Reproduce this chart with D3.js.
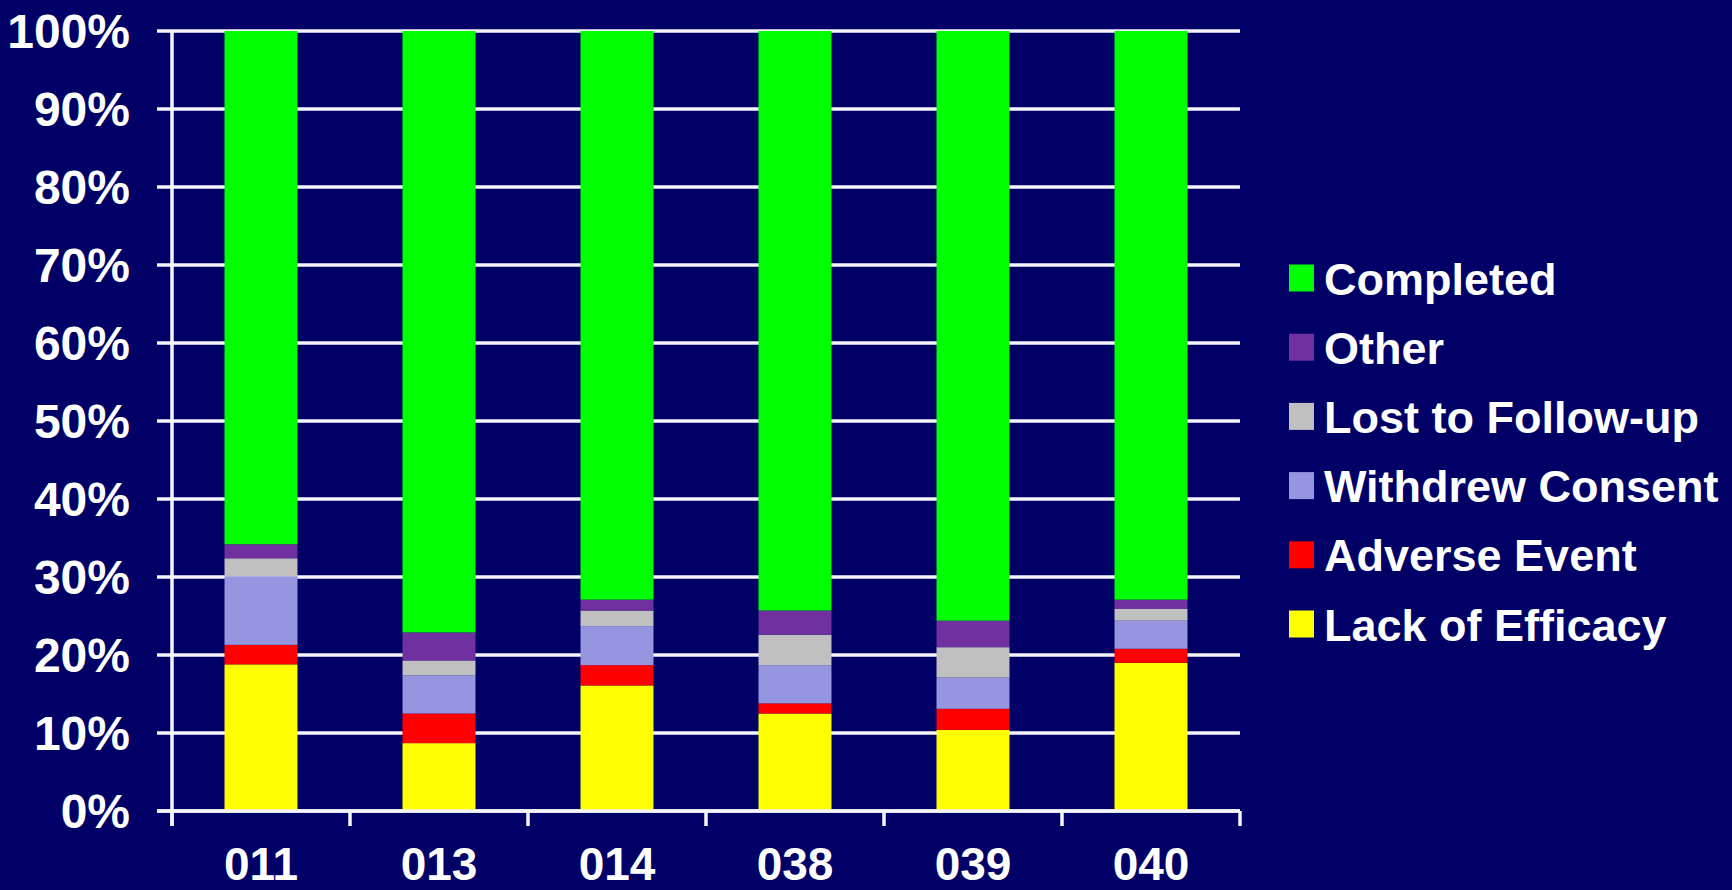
<!DOCTYPE html>
<html>
<head>
<meta charset="utf-8">
<script src="https://cdn.jsdelivr.net/npm/d3@7/dist/d3.min.js"></script>
<style>
  html, body { margin: 0; padding: 0; background: #000066; }
  svg { display: block; }
  text { font-family: "Liberation Sans", Arial, sans-serif; font-weight: bold; fill: #ffffff; }
</style>
</head>
<body>
<svg id="chart" width="1732" height="890"></svg>
<script>
// Study protocols along the x axis
const studies = ["011", "013", "014", "038", "039", "040"];

// Patient disposition by study, percent of patients (stacked bottom to top)
const lackOfEfficacy  = [18.8, 8.7, 16.1, 12.5, 10.4, 19.0];
const adverseEvent    = [2.5, 3.8, 2.6, 1.3, 2.7, 1.8];
const withdrewConsent = [8.8, 4.9, 5.0, 4.9, 4.0, 3.6];
const lostToFollowUp  = [2.3, 1.9, 2.0, 3.9, 3.9, 1.5];
const otherReason     = [1.8, 3.6, 1.4, 3.1, 3.4, 1.2];
const completed       = [65.8, 77.1, 72.9, 74.3, 75.6, 72.9];

// Series names (bottom to top) and their fills
const seriesNames  = ["Lack of Efficacy", "Adverse Event", "Withdrew Consent", "Lost to Follow-up", "Other", "Completed"];
const seriesValues = [lackOfEfficacy, adverseEvent, withdrewConsent, lostToFollowUp, otherReason, completed];
const seriesColors = ["#ffff00", "#ff0000", "#9696e0", "#c0c0c0", "#7030a0", "#00ff00"];

// Y tick values (percent)
const yTicks = [0, 10, 20, 30, 40, 50, 60, 70, 80, 90, 100];

// Row table for d3.stack
const rows = studies.map((s, i) => {
  const r = { study: s };
  seriesNames.forEach((n, k) => { r[n] = seriesValues[k][i]; });
  return r;
});

const svg = d3.select("#chart");
const plot = { left: 172, right: 1240, top: 31, bottom: 811 };

const x = d3.scaleBand()
  .domain(studies)
  .range([plot.left, plot.right])
  .paddingInner(0.59)
  .paddingOuter(0.295);

const y = d3.scaleLinear()
  .domain([0, 100])
  .range([plot.bottom, plot.top]);

const color = d3.scaleOrdinal().domain(seriesNames).range(seriesColors);

// Horizontal gridlines (extend left past the axis as tick marks)
svg.append("g")
  .selectAll("line")
  .data(yTicks)
  .join("line")
  .attr("x1", plot.left - 15)
  .attr("x2", plot.right)
  .attr("y1", d => y(d))
  .attr("y2", d => y(d))
  .attr("stroke", "#f4f4fa")
  .attr("stroke-width", 3.5);

// Stacked bars
const stacked = d3.stack().keys(seriesNames)(rows);
svg.append("g")
  .selectAll("g")
  .data(stacked)
  .join("g")
  .attr("fill", d => color(d.key))
  .selectAll("rect")
  .data(d => d)
  .join("rect")
  .attr("x", d => x(d.data.study))
  .attr("width", x.bandwidth())
  .attr("y", d => y(d[1]))
  .attr("height", d => y(d[0]) - y(d[1]));

// Y axis line
svg.append("line")
  .attr("x1", plot.left).attr("x2", plot.left)
  .attr("y1", plot.top).attr("y2", plot.bottom + 15)
  .attr("stroke", "#f4f4fa")
  .attr("stroke-width", 3.5);

// X axis baseline and category separator ticks
svg.append("line")
  .attr("x1", plot.left - 15).attr("x2", plot.right)
  .attr("y1", plot.bottom).attr("y2", plot.bottom)
  .attr("stroke", "#f4f4fa")
  .attr("stroke-width", 3.5);

const step = x.step();
const boundaries = studies.map(s => x(s) - x.paddingInner() * step / 2)
  .concat([x(studies[studies.length - 1]) + x.bandwidth() + x.paddingInner() * step / 2]);
svg.append("g")
  .selectAll("line")
  .data(boundaries)
  .join("line")
  .attr("x1", d => d).attr("x2", d => d)
  .attr("y1", plot.bottom).attr("y2", plot.bottom + 15)
  .attr("stroke", "#f4f4fa")
  .attr("stroke-width", 3.5);

// Y tick labels
const yAxis = svg.append("g")
  .attr("transform", `translate(${plot.left},0)`)
  .call(d3.axisLeft(y).tickValues(yTicks).tickFormat(d => d + "%").tickSize(0).tickPadding(42));
yAxis.select(".domain").remove();
yAxis.selectAll("text")
  .attr("fill", "#ffffff")
  .attr("dy", "0.35em")
  .style("font-size", "48px");

// X tick labels
const xAxis = svg.append("g")
  .attr("transform", `translate(0,${plot.bottom})`)
  .call(d3.axisBottom(x).tickSize(0).tickPadding(0));
xAxis.select(".domain").remove();
xAxis.selectAll("text")
  .attr("fill", "#ffffff")
  .attr("y", 69)
  .attr("dy", 0)
  .style("font-size", "46px");

// Legend (top entry is the top of the stack)
const legendOrder = seriesNames.slice().reverse();
const legend = svg.append("g")
  .selectAll("g")
  .data(legendOrder)
  .join("g")
  .attr("transform", (d, i) => `translate(1289,${278 + i * 69.2})`);
legend.append("rect")
  .attr("x", 0).attr("y", -13.5)
  .attr("width", 25).attr("height", 27)
  .attr("fill", d => color(d));
legend.append("text")
  .attr("x", 35)
  .attr("y", 16.5)
  .style("font-size", "45px")
  .text(d => d);
</script>
</body>
</html>
